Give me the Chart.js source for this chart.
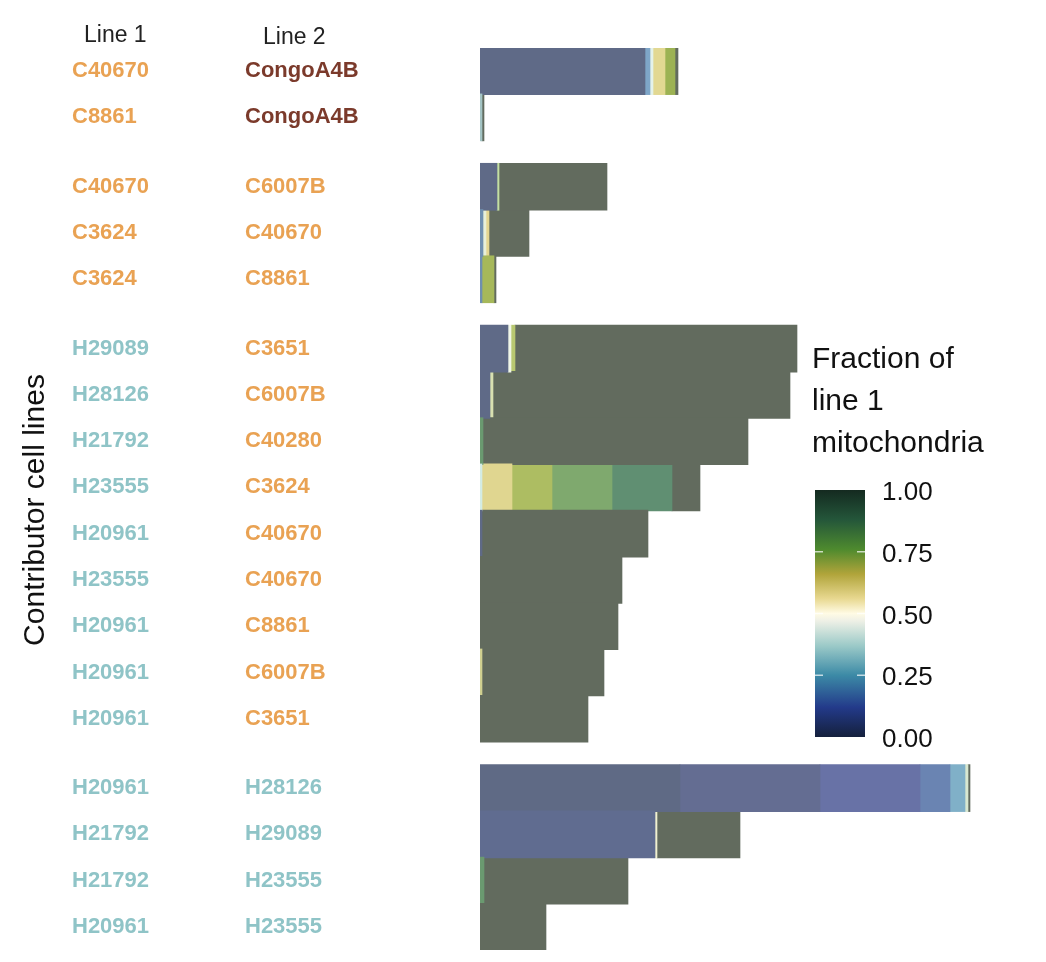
<!DOCTYPE html>
<html>
<head>
<meta charset="utf-8">
<script src="https://cdn.jsdelivr.net/npm/chart.js@4.4.1/dist/chart.umd.min.js"></script>
<style>
  html, body { margin: 0; padding: 0; background: #fff; }
  #wrap { width: 1046px; height: 962px; position: relative; }
</style>
</head>
<body>
<div id="wrap"><canvas id="c" width="1046" height="962"></canvas></div>
<script>
// ===== data =====
const line1 = ['C40670','C8861','C40670','C3624','C3624','H29089','H28126','H21792','H23555','H20961','H23555','H20961','H20961','H20961','H20961','H21792','H21792','H20961'];
const line2 = ['CongoA4B','CongoA4B','C6007B','C40670','C8861','C3651','C6007B','C40280','C3624','C40670','C40670','C8861','C6007B','C3651','H28126','H29089','H23555','H23555'];
const groupOf = [0,0,1,1,1,2,2,2,2,2,2,2,2,2,3,3,3,3];

// colour by cell-line origin
const COL_C = '#e9a253', COL_H = '#8fc4c7', COL_CONGO = '#7b3a2b';
function nameColor(n) {
  if (n.startsWith('Congo')) return COL_CONGO;
  return n[0] === 'H' ? COL_H : COL_C;
}

// each bar: segments of cells, sorted by fraction [count, colour]
const BLUE = '#5f6a87', DARK = '#626b5e';
const segments = [
  [[165, BLUE], [5, '#7ea6c8'], [3, '#e4f2ea'], [12, '#e2d892'], [10, '#9cb253'], [3, DARK]],
  [[2, '#a4c4c4'], [2, DARK]],
  [[17, BLUE], [2, '#c4dfa2'], [108, DARK]],
  [[3, '#7090b0'], [3, '#e8f0d8'], [3, '#e4d690'], [40, DARK]],
  [[2, '#6f8fb0'], [12, '#a6b85a'], [2, DARK]],
  [[28, BLUE], [3, '#f0f6e8'], [4, '#b8c870'], [282, DARK]],
  [[10, BLUE], [3, '#d8e0b0'], [297, DARK]],
  [[3, '#6a9a70'], [265, DARK]],
  [[2, '#d4ece4'], [30, '#e0d690'], [40, '#adbd62'], [60, '#7fa96e'], [60, '#608f72'], [28, DARK]],
  [[2, BLUE], [166, DARK]],
  [[142, DARK]],
  [[138, DARK]],
  [[2, '#d0d090'], [122, DARK]],
  [[108, DARK]],
  [[200, '#5f6a85'], [140, '#646d92'], [100, '#6872a6'], [30, '#6a84b2'], [15, '#80b0c8'], [3, '#d8e8d0'], [2, DARK]],
  [[175, '#606c90'], [2, '#f0f0d0'], [83, DARK]],
  [[4, '#6a9a70'], [144, DARK]],
  [[66, DARK]]
];

const cbarStops = [
  [0.00, '#14203c'], [0.12, '#233a8a'], [0.25, '#3c8aa6'], [0.37, '#9ccac8'],
  [0.47, '#eef0e6'], [0.50, '#fffbe4'], [0.56, '#e8d890'], [0.66, '#b0a43a'],
  [0.76, '#4e8a2e'], [0.88, '#24563a'], [1.00, '#142a20']
];
const cbarTicks = ['1.00', '0.75', '0.50', '0.25', '0.00'];

// ===== build datasets =====
const yPos = groupOf.map((g, i) => i + 0.5 * g);
const nSeg = Math.max(...segments.map(s => s.length));
const datasets = [];
for (let k = 0; k < nSeg; k++) {
  datasets.push({
    data: segments.map((s, i) => ({ x: s[k] ? s[k][0] : 0, y: yPos[i] })),
    backgroundColor: segments.map(s => s[k] ? s[k][1] : 'rgba(0,0,0,0)'),
    borderWidth: 0,
    barThickness: 47,
    stack: 'a'
  });
}

const FONT = '"Liberation Sans", Arial, sans-serif';

const decor = {
  id: 'decor',
  afterDraw(chart) {
    const ctx = chart.ctx;
    const ys = chart.scales.y;
    ctx.save();
    // column headers
    ctx.fillStyle = '#222';
    ctx.font = '23px ' + FONT;
    ctx.textBaseline = 'middle';
    ctx.textAlign = 'left';
    ctx.fillText('Line 1', 84, 36);
    ctx.fillText('Line 2', 263, 38);
    // row labels
    ctx.font = 'bold 22px ' + FONT;
    yPos.forEach((p, i) => {
      const y = ys.getPixelForValue(p);
      ctx.fillStyle = nameColor(line1[i]);
      ctx.fillText(line1[i], 72, y);
      ctx.fillStyle = nameColor(line2[i]);
      ctx.fillText(line2[i], 245, y);
    });
    // axis title
    ctx.save();
    ctx.translate(36, 510);
    ctx.rotate(-Math.PI / 2);
    ctx.textAlign = 'center';
    ctx.fillStyle = '#111';
    ctx.font = '30px ' + FONT;
    ctx.fillText('Contributor cell lines', 0, 0);
    ctx.restore();
    // legend title
    ctx.fillStyle = '#111';
    ctx.font = '30px ' + FONT;
    ctx.textAlign = 'left';
    ['Fraction of', 'line 1', 'mitochondria'].forEach((t, i) => ctx.fillText(t, 812, 360 + i * 42));
    // colour bar
    const bx = 815, bw = 50, top = 490, bot = 737;
    const g = ctx.createLinearGradient(0, bot, 0, top);
    cbarStops.forEach(([o, c]) => g.addColorStop(o, c));
    ctx.fillStyle = g;
    ctx.fillRect(bx, top, bw, bot - top);
    ctx.strokeStyle = 'rgba(255,255,255,0.7)';
    ctx.lineWidth = 1.5;
    [0.25, 0.5, 0.75].forEach(f => {
      const y = bot - f * (bot - top);
      ctx.beginPath(); ctx.moveTo(bx, y); ctx.lineTo(bx + 8, y); ctx.stroke();
      ctx.beginPath(); ctx.moveTo(bx + bw - 8, y); ctx.lineTo(bx + bw, y); ctx.stroke();
    });
    ctx.fillStyle = '#111';
    ctx.font = '26px ' + FONT;
    cbarTicks.forEach((t, i) => ctx.fillText(t, 882, top + 3 + i * (bot - top) / 4));
    ctx.restore();
  }
};

new Chart(document.getElementById('c'), {
  type: 'bar',
  data: { datasets },
  options: {
    indexAxis: 'y',
    responsive: false,
    animation: false,
    layout: { padding: { left: 480, right: 66, top: 48, bottom: 12 } },
    plugins: { legend: { display: false }, tooltip: { enabled: false } },
    scales: {
      x: { type: 'linear', stacked: true, min: 0, max: 500, display: false, offset: false },
      y: { type: 'linear', stacked: true, min: -0.5, max: 19, reverse: true, display: false, offset: false }
    }
  },
  plugins: [decor]
});
</script>
</body>
</html>
